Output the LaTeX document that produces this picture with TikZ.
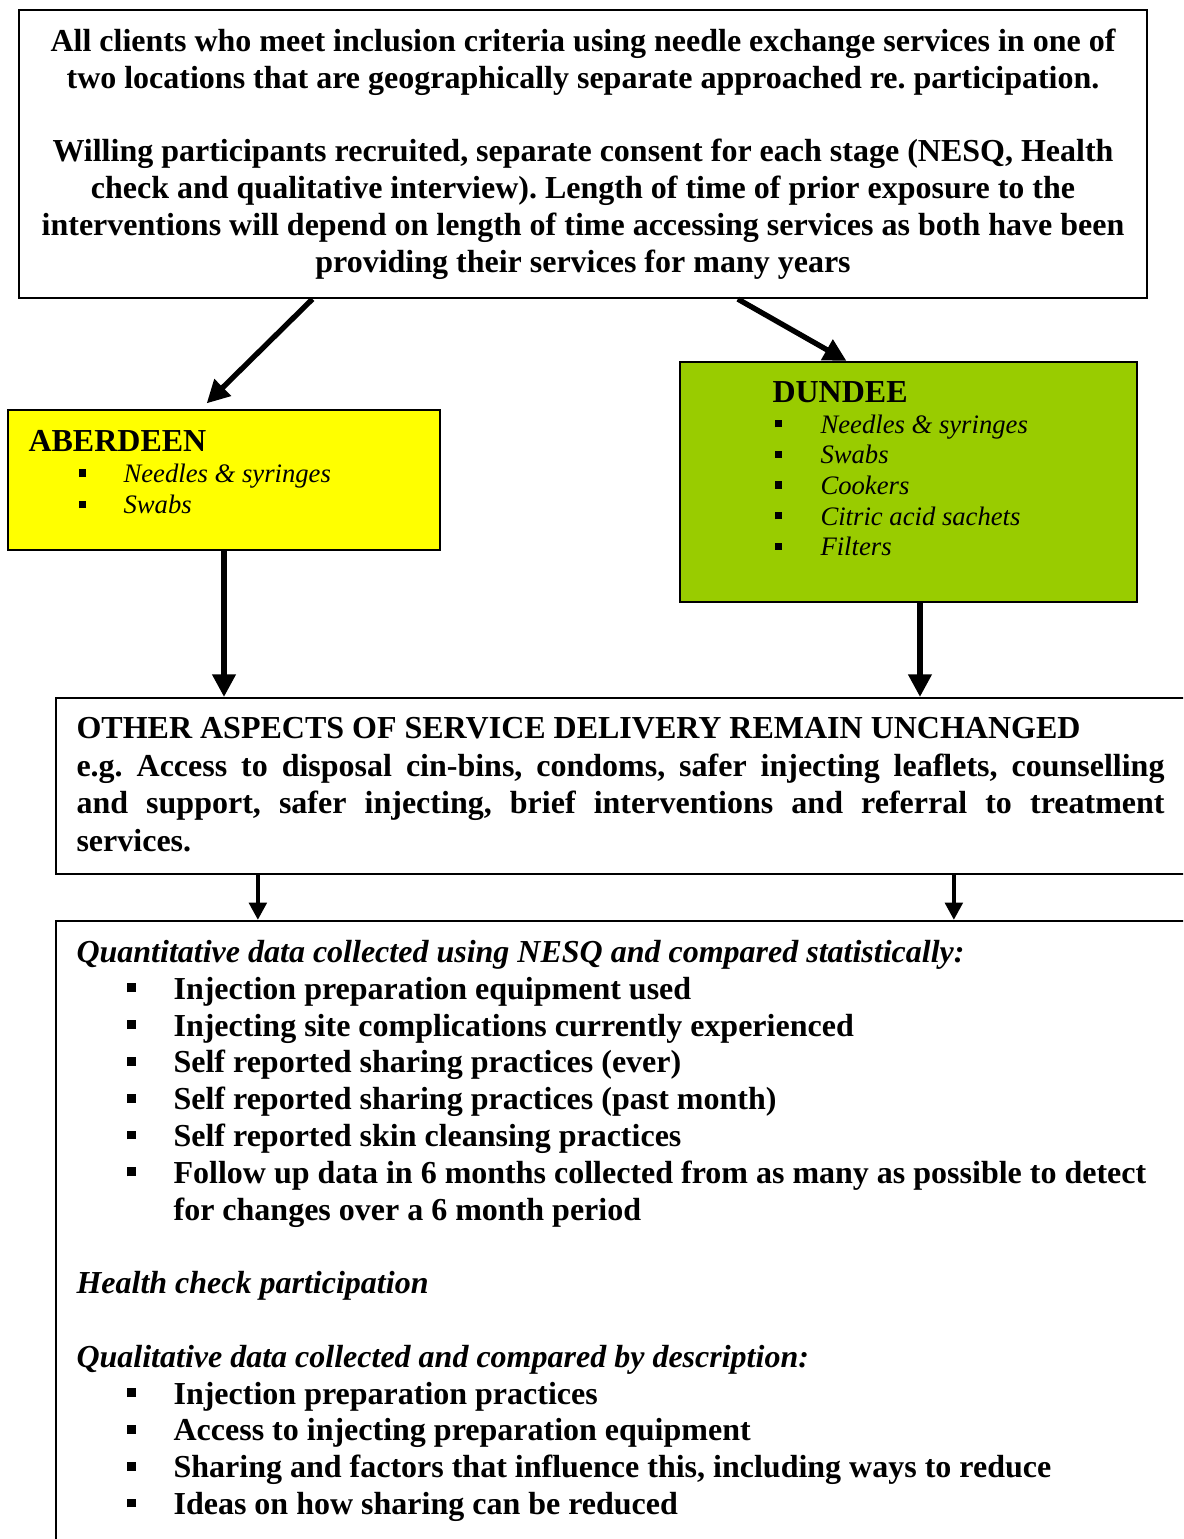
\documentclass[tikz,border=0pt]{standalone}
\usepackage{fontspec}
\setmainfont{Liberation Serif}
\usepackage{xcolor}
\usetikzlibrary{positioning,arrows.meta,fit,calc}

\definecolor{abyellow}{HTML}{FFFF00}
\definecolor{dugreen}{HTML}{99CC00}
\setlength{\parindent}{0pt}
\hyphenpenalty=10000
\exhyphenpenalty=10000
\frenchspacing
% square bullet: indent, gap to text, item text
\newcommand{\sqitem}[3]{\hspace*{#1}\makebox[#2][l]{\rule[0.22em]{0.28em}{0.28em}}#3}

\begin{document}
\begin{tikzpicture}[x=0.375pt, y=-0.375pt,
  box/.style={draw, line width=0.8pt, inner sep=0pt},
  abd/.style={box, fill=abyellow},
  dun/.style={box, fill=dugreen},
  txt/.style={inner sep=0pt, anchor=north west, align=flush left, text width=#1,
              font=\fontsize{12}{13.8}\selectfont\bfseries,
              execute at begin node={\spaceskip=0pt\xspaceskip=0pt}},
  arr/.style={-{Triangle[length=8.5pt,width=8.5pt]}, line width=2pt},
  sarr/.style={-{Triangle[length=6.5pt,width=6.5pt]}, line width=1.6pt},
]
  \useasboundingbox (0,0) rectangle (1183,1539);
  \clip (0,0) rectangle (1183,1539);

  % boxes
  \node[box, fit={(19,10) (1147,298)}] (top) {};
  \node[abd, fit={(8,410) (440,550)}] (abd) {};
  \node[dun, fit={(680,362) (1137,602)}] (dun) {};
  \node[box, fit={(56,698) (1200,874)}] (oth) {};
  \node[box, fit={(56,921) (1200,1560)}] (qnt) {};

  % texts
  \node[txt=420pt, anchor=north, align=flush center] (toptxt) at (583,25.2)
    {\strut All clients who meet inclusion criteria using needle exchange services in one of\\
     two locations that are geographically separate approached re. participation.\\[13.8pt]
     Willing participants recruited, separate consent for each stage (NESQ, Health\\
     check and qualitative interview). Length of time of prior exposure to the\\
     interventions will depend on length of time accessing services as both have been\\
     providing their services for many years};

  \node[txt=150pt] (abtxt) at (28,424.7)
    {\strut ABERDEEN\par
     {\fontsize{10}{11.8}\selectfont\mdseries\itshape
      \sqitem{18.75pt}{16.9pt}{Needles \& syringes}\par
      \sqitem{18.75pt}{16.9pt}{Swabs}\par}};

  \node[txt=140pt] (dutxt) at (772,376.2)
    {\strut DUNDEE\par
     {\fontsize{10}{11.5}\selectfont\mdseries\itshape
      \sqitem{0.75pt}{17.25pt}{Needles \& syringes}\par
      \sqitem{0.75pt}{17.25pt}{Swabs}\par
      \sqitem{0.75pt}{17.25pt}{Cookers}\par
      \sqitem{0.75pt}{17.25pt}{Citric acid sachets}\par
      \sqitem{0.75pt}{17.25pt}{Filters}\par}};

  \node[txt=408pt, align=justify] (othtxt) at (76,712.4)
    {\strut OTHER ASPECTS OF SERVICE DELIVERY REMAIN UNCHANGED\par
     {\fontsize{12}{14.1}\selectfont
     e.g. Access to disposal cin-bins, condoms, safer injecting leaflets, counselling\linebreak
     and support, safer injecting, brief interventions and referral to treatment\linebreak
     services.\par}};

  \node[txt=420pt] (qnttxt) at (76,936.2)
    {\strut\textit{Quantitative data collected using NESQ and compared statistically:}\\
     \sqitem{19.1pt}{17.3pt}{Injection preparation equipment used}\\
     \sqitem{19.1pt}{17.3pt}{Injecting site complications currently experienced}\\
     \sqitem{19.1pt}{17.3pt}{Self reported sharing practices (ever)}\\
     \sqitem{19.1pt}{17.3pt}{Self reported sharing practices (past month)}\\
     \sqitem{19.1pt}{17.3pt}{Self reported skin cleansing practices}\\
     \sqitem{19.1pt}{17.3pt}{Follow up data in 6 months collected from as many as possible to detect}\\
     \hspace*{36.4pt}for changes over a 6 month period\\[13.8pt]
     \textit{Health check participation}\\[13.8pt]
     \textit{Qualitative data collected and compared by description:}\\
     \sqitem{19.1pt}{17.3pt}{Injection preparation practices}\\
     \sqitem{19.1pt}{17.3pt}{Access to injecting preparation equipment}\\
     \sqitem{19.1pt}{17.3pt}{Sharing and factors that influence this, including ways to reduce}\\
     \sqitem{19.1pt}{17.3pt}{Ideas on how sharing can be reduced}};

  % connectors
  \coordinate (dbot) at ($(dun.south west)!0.525!(dun.south east)$);
  \coordinate (o1) at ([xshift=76.1pt]oth.south west);
  \coordinate (o2) at ([xshift=337.1pt]oth.south west);

  \draw[arr, shorten >=3pt] ($(top.south west)!0.2606!(top.south east)$)
    -- ($(abd.north west)!0.447!(abd.north east)$);
  \draw[arr] ($(top.south west)!0.637!(top.south east)$)
    -- ($(dun.north west)!0.365!(dun.north east)$);
  \draw[arr] (abd.south) -- (abd.south |- oth.north);
  \draw[arr] (dbot) -- (dbot |- oth.north);
  \draw[sarr] (o1) -- (o1 |- qnt.north);
  \draw[sarr] (o2) -- (o2 |- qnt.north);
\end{tikzpicture}
\end{document}
